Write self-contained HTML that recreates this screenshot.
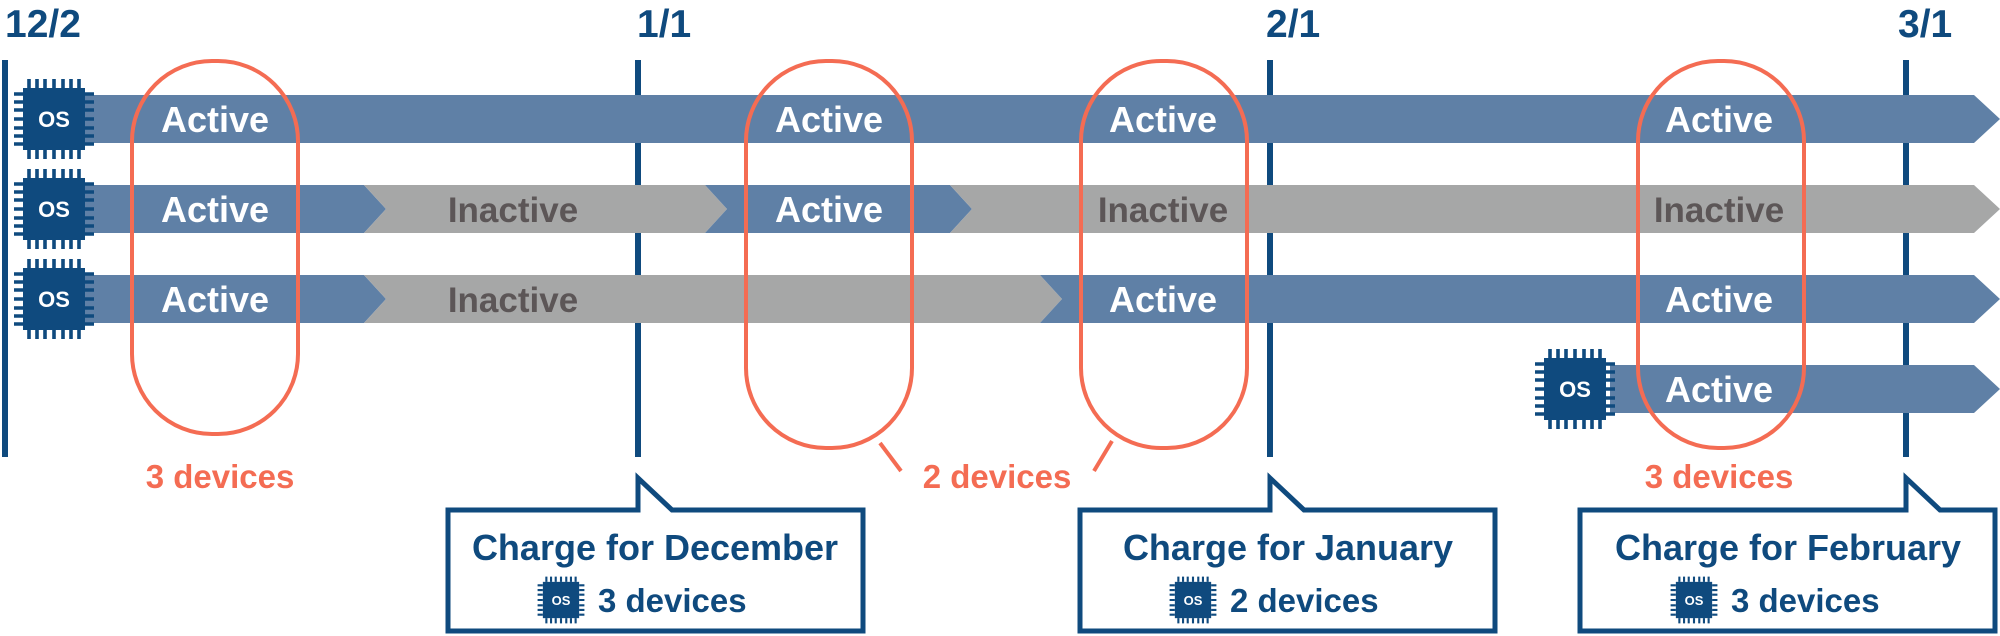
<!DOCTYPE html>
<html><head><meta charset="utf-8"><style>
html,body{margin:0;padding:0;background:#fff;}
svg{display:block;}
text{font-family:"Liberation Sans",sans-serif;font-weight:bold;}
</style></head><body>
<svg width="2000" height="636" viewBox="0 0 2000 636" xmlns="http://www.w3.org/2000/svg">
<defs>
<symbol id="chip" viewBox="0 0 82 82">
<rect x="10" y="10" width="62" height="62" fill="#0f4a7e"/>
<g stroke="#0f4a7e" stroke-width="3.6">
<path d="M16 1V10M24 1V10M32 1V10M41 1V10M50 1V10M58 1V10M66 1V10"/>
<path d="M16 72V81M24 72V81M32 72V81M41 72V81M50 72V81M58 72V81M66 72V81"/>
<path d="M1 16H10M1 24H10M1 32H10M1 41H10M1 50H10M1 58H10M1 66H10"/>
<path d="M72 16H81M72 24H81M72 32H81M72 41H81M72 50H81M72 58H81M72 66H81"/>
</g>
</symbol>
</defs>

<g fill="#0f4a7e" font-size="39">
<text x="5" y="37">12/2</text>
<text x="637" y="37">1/1</text>
<text x="1266" y="37">2/1</text>
<text x="1898" y="37">3/1</text>
</g>

<g stroke="#0f4a7e" stroke-width="6">
<line x1="5" y1="60" x2="5" y2="457"/>
<line x1="638" y1="60" x2="638" y2="457"/>
<line x1="1270" y1="60" x2="1270" y2="457"/>
<line x1="1906" y1="60" x2="1906" y2="457"/>
</g>

<polygon points="85,95 1974,95 2000,119 1974,143 85,143" fill="#5f80a6"/>
<polygon points="85,185 364,185 386,209 364,233 85,233" fill="#5f80a6"/>
<polygon points="364,185 705,185 727,209 705,233 364,233 386,209" fill="#a6a7a7"/>
<polygon points="705,185 950,185 972,209 950,233 705,233 727,209" fill="#5f80a6"/>
<polygon points="950,185 1974,185 2000,209 1974,233 950,233 972,209" fill="#a6a7a7"/>
<polygon points="85,275 364,275 386,299 364,323 85,323" fill="#5f80a6"/>
<polygon points="364,275 1040,275 1062,299 1040,323 364,323 386,299" fill="#a6a7a7"/>
<polygon points="1040,275 1974,275 2000,299 1974,323 1040,323 1062,299" fill="#5f80a6"/>
<polygon points="1610,365 1974,365 2000,389 1974,413 1610,413" fill="#5f80a6"/>

<use href="#chip" x="13" y="78" width="82" height="82"/>
<use href="#chip" x="13" y="168" width="82" height="82"/>
<use href="#chip" x="13" y="258" width="82" height="82"/>
<use href="#chip" x="1534" y="348" width="82" height="82"/>
<g fill="#fff" font-size="22" text-anchor="middle" style="font-weight:normal">
<text x="54" y="127">OS</text>
<text x="54" y="217">OS</text>
<text x="54" y="307">OS</text>
<text x="1575" y="397">OS</text>
</g>

<g fill="#fff" font-size="36" text-anchor="middle">
<text x="215" y="132">Active</text>
<text x="829" y="132">Active</text>
<text x="1163" y="132">Active</text>
<text x="1719" y="132">Active</text>
<text x="215" y="222">Active</text>
<text x="829" y="222">Active</text>
<text x="215" y="312">Active</text>
<text x="1163" y="312">Active</text>
<text x="1719" y="312">Active</text>
<text x="1719" y="402">Active</text>
</g>
<g fill="#5c5657" font-size="35" text-anchor="middle">
<text x="513" y="222">Inactive</text>
<text x="1163" y="222">Inactive</text>
<text x="1719" y="222">Inactive</text>
<text x="513" y="312">Inactive</text>
</g>

<g fill="none" stroke="#f46c53" stroke-width="4">
<rect x="132" y="61" width="166" height="373" rx="80"/>
<rect x="746" y="61" width="166" height="387" rx="80"/>
<rect x="1081" y="61" width="166" height="387" rx="80"/>
<rect x="1638" y="61" width="166" height="387" rx="80"/>
<line x1="880" y1="443" x2="901" y2="471"/>
<line x1="1112" y1="441" x2="1094" y2="471"/>
</g>
<g fill="#f46c53" font-size="33" text-anchor="middle">
<text x="220" y="488">3 devices</text>
<text x="997" y="488">2 devices</text>
<text x="1719" y="488">3 devices</text>
</g>

<g fill="#fff" stroke="#0f4a7e" stroke-width="5">
<path d="M448,510 H638 V478 L672,510 H863 V631 H448 Z"/>
<path d="M1080,510 H1270 V478 L1304,510 H1495 V631 H1080 Z"/>
<path d="M1580,510 H1906 V478 L1940,510 H1995 V631 H1580 Z"/>
</g>
<g fill="#0f4a7e" font-size="36" text-anchor="middle">
<text x="655" y="560">Charge for December</text>
<text x="1288" y="560">Charge for January</text>
<text x="1788" y="560">Charge for February</text>
</g>
<use href="#chip" x="537" y="576" width="48" height="48"/>
<use href="#chip" x="1169" y="576" width="48" height="48"/>
<use href="#chip" x="1670" y="576" width="48" height="48"/>
<g fill="#fff" font-size="13" text-anchor="middle" style="font-weight:normal">
<text x="561" y="605">OS</text>
<text x="1193" y="605">OS</text>
<text x="1694" y="605">OS</text>
</g>
<g fill="#0f4a7e" font-size="33" text-anchor="start">
<text x="598" y="612">3 devices</text>
<text x="1230" y="612">2 devices</text>
<text x="1731" y="612">3 devices</text>
</g>
</svg>
</body></html>
